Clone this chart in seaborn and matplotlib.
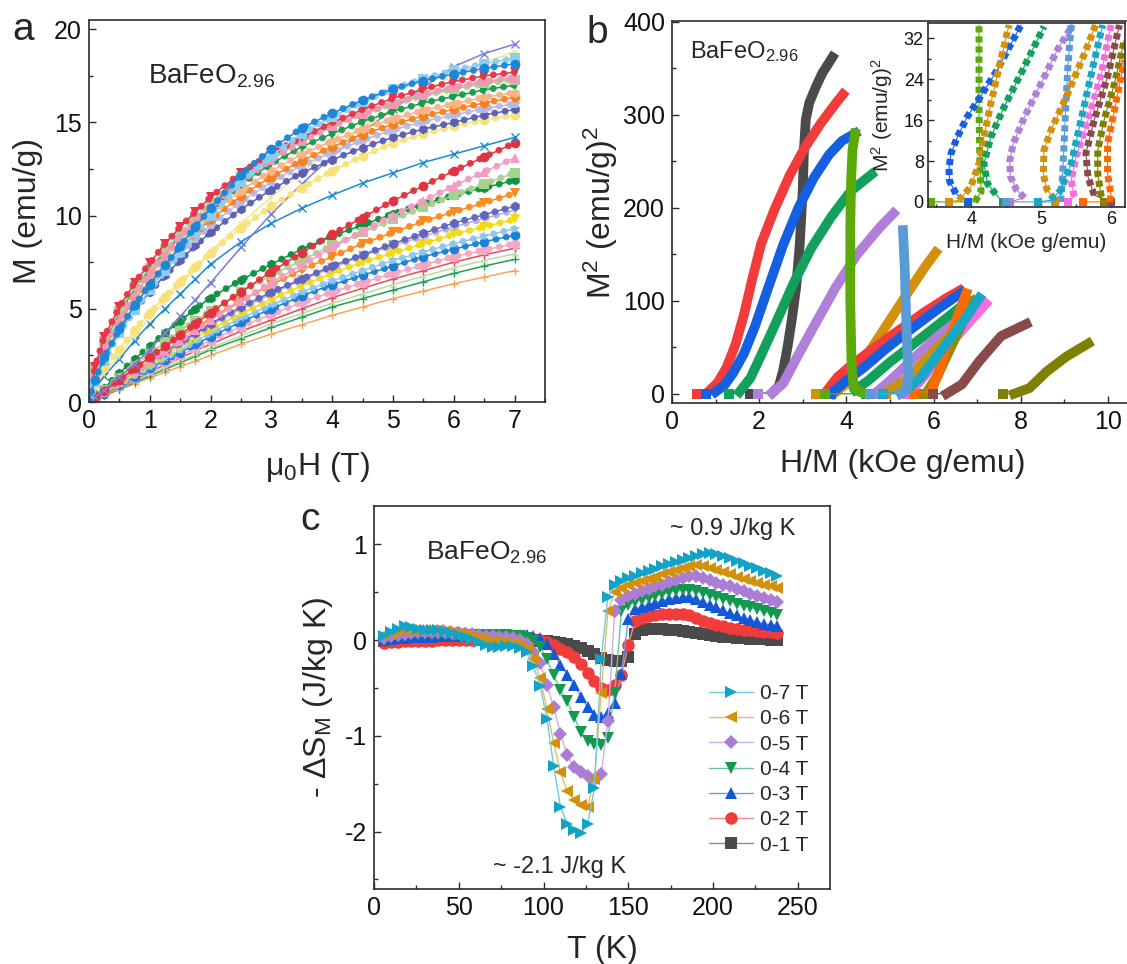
import numpy as np
import pandas as pd
import matplotlib
matplotlib.use("Agg")
import matplotlib.pyplot as plt
from matplotlib.lines import Line2D
from matplotlib.ticker import MultipleLocator
import seaborn as sns

# ---------------- Panel a data: M(H) isotherms ----------------
H_a = [0, 0.1, 0.25, 0.5, 0.75, 1, 1.25, 1.5, 1.75, 2, 2.5, 3, 3.5, 4, 4.5, 5, 5.5, 6, 6.5, 7]

a_red_v = [0, 1.9, 3.5, 5.1, 6.4, 7.45, 8.5, 9.4, 10.2, 11.0, 12.3, 13.35, 14.2, 15.0, 15.7, 16.3, 16.8, 17.2, 17.5, 17.7]
a_lgreen_s = [0, 1.8, 3.3, 4.9, 6.2, 7.2, 8.2, 9.1, 9.9, 10.7, 12.1, 13.2, 14.1, 14.9, 15.5, 16.0, 16.45, 16.8, 17.1, 17.3]
a_green_v = [0, 1.7, 3.2, 4.8, 6.05, 7.1, 8.05, 8.9, 9.7, 10.4, 11.7, 12.8, 13.7, 14.4, 15.05, 15.6, 16.05, 16.4, 16.75, 17.0]
a_peach_h = [0, 1.6, 3.0, 4.5, 5.75, 6.8, 7.7, 8.55, 9.35, 10.1, 11.35, 12.4, 13.3, 14.0, 14.65, 15.2, 15.65, 16.0, 16.35, 16.6]
a_orange_o = [0, 1.5, 2.85, 4.3, 5.5, 6.5, 7.4, 8.25, 9.05, 9.8, 11.05, 12.1, 12.95, 13.7, 14.35, 14.9, 15.35, 15.7, 16.05, 16.35]
a_lav_p = [0, 1.4, 2.65, 4.0, 5.2, 6.2, 7.1, 7.95, 8.75, 9.5, 10.75, 11.8, 12.7, 13.4, 14.05, 14.6, 15.05, 15.4, 15.75, 16.0]
a_slate_h = [0, 1.3, 2.5, 3.8, 4.95, 5.9, 6.8, 7.6, 8.4, 9.1, 10.35, 11.4, 12.3, 13.0, 13.65, 14.2, 14.65, 15.0, 15.4, 15.7]
a_blue_o = [0, 1.2, 2.4, 3.9, 5.2, 6.3, 7.35, 8.35, 9.4, 10.4, 12.2, 13.6, 14.7, 15.5, 16.2, 16.8, 17.25, 17.6, 17.9, 18.15]
a_lblue_s = [0, 1.1, 2.2, 3.7, 4.95, 6.0, 7.05, 8.05, 9.05, 10.0, 11.8, 13.2, 14.4, 15.3, 16.1, 16.8, 17.35, 17.8, 18.15, 18.45]
a_pink_t = [0, 1.6, 3.0, 4.4, 5.75, 6.9, 7.9, 8.85, 9.7, 10.5, 11.85, 13.0, 14.0, 14.8, 15.45, 16.0, 16.5, 16.9, 17.2, 17.4]
a_yellow_o = [0, 0.9, 1.8, 2.8, 3.85, 4.8, 5.65, 6.45, 7.25, 8.0, 9.35, 10.5, 11.5, 12.4, 13.2, 13.9, 14.4, 14.8, 15.15, 15.4]
a_blue_x = [0, 0.7, 1.4, 2.3, 3.3, 4.2, 5.0, 5.8, 6.6, 7.4, 8.6, 9.6, 10.4, 11.1, 11.75, 12.3, 12.85, 13.3, 13.75, 14.2]
a_purple_x = [0, 0.25, 0.65, 1.35, 2.05, 2.8, 3.7, 4.6, 5.5, 6.4, 8.3, 10.1, 11.7, 13.2, 14.5, 15.7, 16.9, 18.0, 18.7, 19.2]
a_yellow_l = [0, 0.8, 1.6, 2.5, 3.55, 4.5, 5.4, 6.3, 7.2, 8.1, 9.6, 11.0, 12.3, 13.6, 14.7, 15.8, 16.7, 17.5, 18.2, 18.8]
b_red_o = [0, 0.25, 0.6, 1.2, 1.8, 2.4, 3.0, 3.6, 4.2, 4.8, 5.9, 7.0, 8.0, 9.0, 9.9, 10.8, 11.6, 12.4, 13.15, 13.9]
b_pink_t = [0, 0.22, 0.55, 1.1, 1.65, 2.2, 2.75, 3.3, 3.85, 4.4, 5.4, 6.4, 7.35, 8.3, 9.15, 10.0, 10.8, 11.6, 12.35, 13.1]
b_lgreen_s = [0, 0.27, 0.65, 1.3, 1.95, 2.6, 3.2, 3.8, 4.35, 4.9, 5.9, 6.8, 7.6, 8.4, 9.1, 9.8, 10.45, 11.1, 11.7, 12.3]
b_green_h = [0, 0.3, 0.75, 1.55, 2.3, 3.0, 3.7, 4.35, 5.0, 5.6, 6.55, 7.4, 8.2, 8.9, 9.5, 10.1, 10.6, 11.1, 11.5, 11.9]
b_orange_v = [0, 0.24, 0.6, 1.2, 1.8, 2.4, 2.95, 3.5, 4.0, 4.5, 5.45, 6.3, 7.1, 7.8, 8.5, 9.1, 9.7, 10.2, 10.7, 11.2]
b_slate_h = [0, 0.22, 0.55, 1.1, 1.65, 2.2, 2.7, 3.2, 3.7, 4.2, 5.1, 5.9, 6.6, 7.3, 7.9, 8.5, 9.05, 9.6, 10.05, 10.5]
b_lav_v = [0, 0.21, 0.53, 1.07, 1.6, 2.1, 2.6, 3.1, 3.6, 4.1, 5.0, 5.8, 6.55, 7.2, 7.85, 8.4, 8.9, 9.4, 9.85, 10.3]
b_yellow_v = [0, 0.2, 0.5, 1.0, 1.5, 2.0, 2.5, 2.95, 3.45, 3.9, 4.75, 5.5, 6.25, 6.9, 7.5, 8.0, 8.5, 9.0, 9.4, 9.8]
b_lblue_star = [0, 0.19, 0.48, 0.95, 1.43, 1.9, 2.35, 2.8, 3.25, 3.7, 4.5, 5.2, 5.9, 6.5, 7.05, 7.6, 8.05, 8.5, 8.9, 9.3]
b_blue_o = [0, 0.18, 0.45, 0.9, 1.35, 1.8, 2.25, 2.65, 3.1, 3.5, 4.3, 5.0, 5.7, 6.3, 6.8, 7.3, 7.8, 8.2, 8.6, 8.95]
b_pink_o = [0, 0.17, 0.43, 0.85, 1.28, 1.7, 2.1, 2.5, 2.9, 3.3, 4.05, 4.7, 5.35, 5.9, 6.4, 6.9, 7.35, 7.8, 8.15, 8.5]
b_red_plus = [0, 0.16, 0.4, 0.8, 1.2, 1.6, 2.0, 2.35, 2.75, 3.1, 3.8, 4.4, 5.0, 5.6, 6.1, 6.6, 7.05, 7.5, 7.9, 8.25]
b_lgreen_tri = [0, 0.15, 0.38, 0.75, 1.13, 1.5, 1.85, 2.2, 2.55, 2.9, 3.55, 4.2, 4.75, 5.3, 5.8, 6.3, 6.75, 7.2, 7.6, 7.95]
b_green_plus = [0, 0.14, 0.35, 0.7, 1.05, 1.4, 1.75, 2.1, 2.45, 2.8, 3.4, 4.0, 4.55, 5.1, 5.55, 6.0, 6.45, 6.9, 7.3, 7.65]
b_orange_plus = [0, 0.13, 0.33, 0.65, 0.98, 1.3, 1.6, 1.9, 2.2, 2.5, 3.1, 3.65, 4.15, 4.65, 5.1, 5.55, 5.95, 6.35, 6.7, 7.05]

# ---------------- Panel b data: Arrott plots (H/M, M^2) ----------------
ar_black_x = [1.80, 2.30, 2.45, 2.55, 2.65, 2.75, 2.85, 2.93, 3.00, 3.03, 3.07, 3.15, 3.30, 3.45, 3.60, 3.68]
ar_black_y = [0, 1, 8, 25, 50, 80, 115, 160, 220, 265, 295, 313, 330, 345, 356, 362]
ar_red_x = [0.58, 0.85, 1.05, 1.25, 1.45, 1.65, 1.85, 2.05, 2.35, 2.7, 3.05, 3.4, 3.75, 3.92]
ar_red_y = [0, 3, 12, 28, 52, 85, 125, 162, 198, 235, 265, 290, 312, 322]
ar_blue_x = [0.77, 1.0, 1.2, 1.4, 1.65, 1.9, 2.2, 2.55, 2.9, 3.25, 3.6, 3.9, 4.2]
ar_blue_y = [0, 2, 9, 22, 43, 72, 113, 160, 200, 232, 257, 272, 280]
ar_green_x = [1.31, 1.55, 1.8, 2.05, 2.4, 2.8, 3.2, 3.65, 4.1, 4.58]
ar_green_y = [0, 2, 17, 42, 78, 120, 157, 190, 218, 236]
ar_purple_x = [1.97, 2.3, 2.55, 2.9, 3.25, 3.75, 4.25, 4.75, 5.08]
ar_purple_y = [0, 1, 11, 42, 72, 114, 150, 178, 194]
ar_ygreen_x = [3.50, 4.45, 4.3, 4.17, 4.12, 4.09, 4.09, 4.11, 4.14, 4.2]
ar_ygreen_y = [0, 0, 2, 8, 30, 100, 180, 230, 262, 280]
ar_steel_x = [4.55, 5.25, 5.38, 5.42, 5.38, 5.34, 5.30]
ar_steel_y = [0, 0, 3, 20, 70, 135, 176]
ar_gold_x = [3.30, 3.72, 4.05, 4.4, 4.9, 5.4, 5.8, 6.05]
ar_gold_y = [0, 0, 13, 36, 72, 108, 136, 152]
ar_red2_x = [3.50, 3.6, 3.8, 4.1, 4.6, 5.2, 5.8, 6.3, 6.6]
ar_red2_y = [0, 6, 18, 30, 48, 68, 88, 103, 111]
ar_blue2_x = [3.65, 3.75, 4.0, 4.4, 4.9, 5.5, 6.1, 6.65]
ar_blue2_y = [0, 4, 14, 28, 48, 70, 91, 109]
ar_green2_x = [4.45, 4.2, 4.5, 5.0, 5.5, 6.1, 6.8]
ar_green2_y = [0, 4, 14, 34, 52, 74, 100]
ar_purple2_x = [4.65, 4.75, 5.0, 5.5, 6.1, 6.6, 7.0]
ar_purple2_y = [0, 4, 14, 36, 62, 80, 93]
ar_pink_x = [5.4, 5.5, 5.9, 6.5, 7.2]
ar_pink_y = [0, 3, 25, 60, 97]
ar_gold2_x = [4.9, 5.0, 5.4, 6.0, 6.5, 6.9]
ar_gold2_y = [0, 4, 16, 45, 70, 98]
ar_orange_x = [5.55, 5.95, 6.1, 6.3, 6.55, 6.75]
ar_orange_y = [0, 3, 20, 50, 82, 108]
ar_cyan_x = [4.85, 5.35, 5.7, 6.2, 6.7, 7.05]
ar_cyan_y = [0, 3, 17, 48, 79, 103]
ar_olive2_x = [5.75, 5.85, 6.1, 6.4, 6.7, 6.95]
ar_olive2_y = [0, 2, 20, 50, 80, 100]
ar_brown_x = [5.99, 6.30, 6.65, 7.05, 7.55, 8.13]
ar_brown_y = [0, 0, 10, 35, 62, 75]
ar_olive_x = [7.59, 7.85, 8.2, 8.6, 9.05, 9.55]
ar_olive_y = [0, 0, 6, 24, 40, 54]

# ---------------- Inset data ----------------
in_blue_x = [3.95, 3.78, 3.69, 3.68, 3.71, 3.8, 3.94, 4.13, 4.37, 4.71]
in_blue_y = [0, 1.6, 4, 6.5, 9.5, 12.7, 16.6, 20.6, 25.8, 34.6]
in_ygreen_x = [3.42, 4.05, 4.14, 4.13, 4.12, 4.11, 4.11, 4.11]
in_ygreen_y = [0, 0, 2, 5, 10, 18, 26, 34.6]
in_gold_x = [3.68, 3.82, 3.99, 4.11, 4.18, 4.28, 4.40, 4.54]
in_gold_y = [0, 0.3, 2.9, 7.5, 12.7, 19.3, 26.5, 34.6]
in_tgreen_x = [4.45, 4.35, 4.23, 4.18, 4.28, 4.47, 4.71, 5.04]
in_tgreen_y = [0, 1.5, 3.6, 7.5, 12.7, 18.6, 25.1, 34.3]
in_purple_x = [4.55, 4.76, 4.64, 4.56, 4.55, 4.6, 4.76, 5.0, 5.23, 5.45]
in_purple_y = [0, 0.8, 2.5, 5, 8, 11.4, 16.6, 23.2, 29.7, 34.6]
in_steel_x = [4.49, 5.28, 5.31, 5.33, 5.35, 5.38, 5.43]
in_steel_y = [0, 0, 6.2, 12, 18, 26, 34.6]
in_gold2_x = [5.2, 5.19, 5.08, 5.03, 5.04, 5.14, 5.38, 5.62, 5.78]
in_gold2_y = [0, 0.5, 2.5, 5.5, 10.1, 14, 21.2, 29, 34.6]
in_cyan_x = [4.95, 5.14, 5.28, 5.43, 5.57, 5.74, 5.88]
in_cyan_y = [0, 0.3, 2.3, 7.5, 16, 26.4, 34.6]
in_pink_x = [5.38, 5.47, 5.43, 5.50, 5.67, 5.86, 6.0]
in_pink_y = [0, 1, 4.2, 8.8, 16, 25.1, 34.6]
in_brown_x = [6.0, 5.76, 5.67, 5.64, 5.76, 5.95, 6.12]
in_brown_y = [0, 1.3, 4.9, 9.5, 16, 24.5, 34.6]
in_olive_x = [5.9, 5.86, 5.81, 5.81, 5.90, 6.05, 6.19]
in_olive_y = [0, 1, 5.5, 10.1, 16, 23.2, 31.7]
in_orange_x = [5.6, 5.98, 6.0, 5.95, 5.95, 6.05, 6.19]
in_orange_y = [0, 0, 1.3, 5.5, 11.4, 18, 27.7]

# ---------------- Panel c data: -dS_M(T) ----------------
T_c = [6, 10, 14, 18, 22, 26, 30, 34, 38, 42, 46, 50, 54, 58, 62, 66, 70, 74, 78, 82,
       86, 90, 94, 98, 102, 106, 110, 114, 118, 122, 126, 130, 134, 138, 142, 146, 150, 154, 158, 162,
       166, 170, 174, 178, 182, 186, 190, 194, 198, 202, 206, 210, 214, 218, 222, 226, 230, 234, 238]
dS_7T = [0.04, 0.08, 0.12, 0.15, 0.14, 0.12, 0.11, 0.10, 0.10, 0.09, 0.07, 0.05, 0.03, 0.01, -0.02, -0.05, -0.07, -0.07, -0.06, -0.06,
         -0.08, -0.13, -0.27, -0.48, -0.82, -1.32, -1.74, -1.92, -1.98, -2.02, -1.92, -1.55, -0.20, 0.45, 0.58, 0.62, 0.65, 0.67, 0.70, 0.72,
         0.74, 0.77, 0.79, 0.82, 0.84, 0.86, 0.88, 0.90, 0.91, 0.90, 0.88, 0.86, 0.83, 0.80, 0.77, 0.75, 0.72, 0.70, 0.67]
dS_6T = [0.05, 0.07, 0.09, 0.10, 0.11, 0.11, 0.11, 0.11, 0.10, 0.09, 0.08, 0.07, 0.05, 0.04, 0.02, 0.00, -0.01, -0.02, -0.02, -0.03,
         -0.05, -0.09, -0.20, -0.40, -0.72, -1.08, -1.38, -1.58, -1.67, -1.72, -1.74, -1.45, -0.55, 0.30, 0.50, 0.54, 0.57, 0.60, 0.62, 0.64,
         0.66, 0.69, 0.71, 0.73, 0.75, 0.77, 0.78, 0.77, 0.75, 0.73, 0.71, 0.69, 0.66, 0.64, 0.62, 0.60, 0.58, 0.56, 0.54]
dS_5T = [0.02, 0.04, 0.05, 0.06, 0.07, 0.08, 0.08, 0.08, 0.08, 0.08, 0.07, 0.07, 0.06, 0.06, 0.05, 0.04, 0.04, 0.03, 0.03, 0.02,
         0.00, -0.04, -0.12, -0.24, -0.47, -0.70, -0.98, -1.20, -1.33, -1.38, -1.42, -1.46, -1.40, -0.85, 0.30, 0.42, 0.46, 0.48, 0.51, 0.53,
         0.56, 0.58, 0.61, 0.63, 0.65, 0.67, 0.67, 0.65, 0.63, 0.60, 0.58, 0.56, 0.53, 0.51, 0.48, 0.46, 0.44, 0.42, 0.40]
dS_4T = [0.00, 0.02, 0.03, 0.04, 0.05, 0.05, 0.05, 0.05, 0.05, 0.05, 0.05, 0.05, 0.05, 0.05, 0.05, 0.05, 0.05, 0.05, 0.05, 0.04,
         0.04, 0.02, -0.01, -0.07, -0.20, -0.37, -0.52, -0.64, -0.80, -0.96, -1.05, -1.09, -1.10, -1.02, -0.55, 0.30, 0.37, 0.40, 0.42, 0.44,
         0.46, 0.48, 0.50, 0.51, 0.52, 0.52, 0.51, 0.49, 0.47, 0.45, 0.43, 0.41, 0.38, 0.36, 0.34, 0.32, 0.30, 0.28, 0.26]
dS_3T = [0.00, 0.01, 0.02, 0.02, 0.03, 0.03, 0.03, 0.03, 0.04, 0.04, 0.04, 0.04, 0.05, 0.05, 0.05, 0.05, 0.05, 0.05, 0.05, 0.05,
         0.05, 0.05, 0.04, 0.02, -0.04, -0.15, -0.26, -0.36, -0.47, -0.59, -0.70, -0.78, -0.80, -0.76, -0.66, -0.35, 0.22, 0.32, 0.35, 0.37,
         0.39, 0.41, 0.43, 0.44, 0.45, 0.45, 0.43, 0.40, 0.37, 0.34, 0.31, 0.28, 0.26, 0.23, 0.21, 0.19, 0.17, 0.16, 0.15]
dS_2T = [-0.03, -0.02, -0.02, -0.01, -0.01, -0.01, -0.01, -0.01, 0.00, 0.00, 0.00, 0.00, 0.00, 0.00, 0.01, 0.01, 0.02, 0.02, 0.02, 0.02,
         0.02, 0.02, 0.01, 0.00, -0.02, -0.05, -0.09, -0.13, -0.18, -0.25, -0.34, -0.43, -0.50, -0.52, -0.47, -0.36, -0.05, 0.20, 0.23, 0.25,
         0.26, 0.27, 0.27, 0.27, 0.27, 0.26, 0.23, 0.20, 0.18, 0.16, 0.15, 0.13, 0.12, 0.11, 0.10, 0.09, 0.08, 0.08, 0.07]
dS_1T = [-0.01, -0.01, -0.01, 0.00, 0.00, 0.00, 0.00, 0.00, 0.00, 0.00, 0.00, 0.00, 0.00, 0.00, 0.00, 0.00, 0.00, 0.00, 0.00, 0.00,
         0.00, 0.00, 0.00, -0.01, -0.01, -0.02, -0.03, -0.04, -0.06, -0.08, -0.11, -0.15, -0.19, -0.21, -0.22, -0.22, -0.18, 0.06, 0.11, 0.12,
         0.12, 0.12, 0.11, 0.10, 0.09, 0.08, 0.07, 0.06, 0.05, 0.04, 0.03, 0.03, 0.02, 0.02, 0.01, 0.01, 0.01, 0.00, 0.00]
field_labels = ["0-1 T", "0-2 T", "0-3 T", "0-4 T", "0-5 T", "0-6 T", "0-7 T"]

# ---------------- styling ----------------
sns.set_theme(style="ticks")
plt.rcParams["font.family"] = ["Liberation Sans", "DejaVu Sans"]
plt.rcParams["mathtext.fontset"] = "custom"
plt.rcParams["mathtext.rm"] = "Liberation Sans"
plt.rcParams["mathtext.it"] = "Liberation Sans:italic"
plt.rcParams["mathtext.bf"] = "Liberation Sans:bold"
plt.rcParams["axes.unicode_minus"] = False

W, Hpx = 1127, 964
fig = plt.figure(figsize=(W / 100, Hpx / 100), dpi=100)


def box(l, t, r, b):
    return [l / W, 1 - b / Hpx, (r - l) / W, (b - t) / Hpx]


SP = "#2b2b2b"


def style_axes(ax, tick_fs, major_len=5, minor_len=3):
    for s in ax.spines.values():
        s.set_color(SP)
        s.set_linewidth(1.2)
    ax.tick_params(which="both", direction="in", color=SP, width=1.0,
                   top=False, right=False, labelsize=tick_fs, labelcolor="#111111")
    ax.tick_params(which="major", length=major_len, pad=5)
    ax.tick_params(which="minor", length=minor_len)
    ax.grid(False)
    ax.set_facecolor("white")


# ---------------- Panel a ----------------
ax_a = fig.add_axes(box(89, 20, 545, 402))
curves_a = [
    (b_orange_plus, "#f8a65a", "+"), (b_green_plus, "#23a052", "+"), (b_lgreen_tri, "#b7dca3", "2"),
    (b_red_plus, "#e84a57", "+"), (b_pink_o, "#f3a7c4", "o"), (b_blue_o, "#1b7fd8", "o"),
    (b_lblue_star, "#8cc7ec", "*"), (b_yellow_v, "#f5d90f", "v"), (b_lav_v, "#b8abe0", "v"),
    (b_slate_h, "#6266ba", "h"), (b_orange_v, "#fb8a1c", "v"), (b_green_h, "#0e913f", "h"),
    (b_lgreen_s, "#a9d18e", "s"), (b_pink_t, "#f39cc3", "^"), (b_red_o, "#e2323f", "o"),
    (a_blue_x, "#1a8ad4", "x"), (a_yellow_l, "#f9e58b", "1"), (a_purple_x, "#7b7fd4", "x"),
    (a_yellow_o, "#f7e27a", "o"), (a_slate_h, "#5b5fb3", "h"), (a_lav_p, "#b9b8e3", "p"),
    (a_orange_o, "#f6821f", "o"), (a_peach_h, "#f9b384", "h"), (a_green_v, "#179c4c", "v"),
    (a_lgreen_s, "#a6d38f", "s"), (a_pink_t, "#f097b4", "^"), (a_red_v, "#e8334a", "v"),
    (a_lblue_s, "#8ecdf2", "s"), (a_blue_o, "#1c86d9", "o"),
]
for vals, col, mk in curves_a:
    filled = mk not in ("+", "x", "1", "2")
    sns.lineplot(x=H_a, y=vals, ax=ax_a, color=col, linewidth=1.1, marker=mk,
                 markersize=7 if filled else 6, markeredgewidth=0 if filled else 1.0,
                 markeredgecolor=col, estimator=None, sort=False)
    if filled:
        ax_a.plot(H_a, vals, color=col, lw=5, ls=(0, (0.01, 1.5)),
                  dash_capstyle="round", alpha=0.95)
ax_a.set_xlim(0, 7.5)
ax_a.set_ylim(0, 20.5)
ax_a.xaxis.set_major_locator(MultipleLocator(1))
ax_a.xaxis.set_minor_locator(MultipleLocator(0.5))
ax_a.yaxis.set_major_locator(MultipleLocator(5))
ax_a.yaxis.set_minor_locator(MultipleLocator(2.5))
style_axes(ax_a, 18)
ax_a.set_xlabel("μ$_0$H (T)", fontsize=23)
ax_a.set_ylabel("M (emu/g)", fontsize=23)
ax_a.xaxis.set_label_coords(0.5, -0.125)
ax_a.yaxis.set_label_coords(-0.10, 0.5)
ax_a.text(0.129, 0.835, "BaFeO$_{2.96}$", transform=ax_a.transAxes, fontsize=20, va="baseline")

# ---------------- Panel b ----------------
ax_b = fig.add_axes(box(672, 21, 1134, 403))
curves_b = [
    (ar_black_x, ar_black_y, "#4a4a4a"), (ar_red_x, ar_red_y, "#f23c3c"), (ar_blue_x, ar_blue_y, "#1560e0"),
    (ar_green_x, ar_green_y, "#12a05a"), (ar_purple_x, ar_purple_y, "#b07fd9"),
    (ar_gold_x, ar_gold_y, "#d4900a"), (ar_red2_x, ar_red2_y, "#f23c3c"), (ar_blue2_x, ar_blue2_y, "#1560e0"),
    (ar_green2_x, ar_green2_y, "#12a05a"), (ar_purple2_x, ar_purple2_y, "#b07fd9"),
    (ar_pink_x, ar_pink_y, "#f76ce0"), (ar_gold2_x, ar_gold2_y, "#c69214"),
    (ar_olive2_x, ar_olive2_y, "#8c8c0a"), (ar_orange_x, ar_orange_y, "#ff6a00"),
    (ar_cyan_x, ar_cyan_y, "#17a8c7"), (ar_brown_x, ar_brown_y, "#8b4a4a"), (ar_olive_x, ar_olive_y, "#7f7f00"),
    (ar_ygreen_x, ar_ygreen_y, "#5aaa0a"), (ar_steel_x, ar_steel_y, "#5b9bd5"),
]
for xs, ys, col in curves_b:
    sns.lineplot(x=xs, y=ys, ax=ax_b, color=col, linewidth=1.0, estimator=None, sort=False)
    ax_b.plot(xs[:1], ys[:1], ls="none", marker="s", ms=6.5, color=col, mew=0)
    ax_b.plot(xs[1:], ys[1:], color=col, lw=7, solid_capstyle="projecting", solid_joinstyle="round")
ax_b.set_xlim(0, 10.6)
ax_b.set_ylim(-10, 401)
ax_b.xaxis.set_major_locator(MultipleLocator(2))
ax_b.xaxis.set_minor_locator(MultipleLocator(1))
ax_b.yaxis.set_major_locator(MultipleLocator(100))
ax_b.yaxis.set_minor_locator(MultipleLocator(50))
style_axes(ax_b, 18)
ax_b.spines["right"].set_visible(False)
ax_b.set_xlabel("H/M (kOe g/emu)", fontsize=23)
ax_b.set_ylabel("M$^2$ (emu/g)$^2$", fontsize=23)
ax_b.xaxis.set_label_coords(0.5, -0.12)
ax_b.yaxis.set_label_coords(-0.112, 0.5)
ax_b.text(0.039, 0.903, "BaFeO$_{2.96}$", transform=ax_b.transAxes, fontsize=17, va="baseline")

# inset
ax_i = fig.add_axes(box(928, 23, 1125, 207))
ax_i.set_zorder(5)
curves_i = [
    (in_ygreen_x, in_ygreen_y, "#5aaa0a"), (in_blue_x, in_blue_y, "#1560e0"), (in_gold_x, in_gold_y, "#d4900a"),
    (in_tgreen_x, in_tgreen_y, "#12a05a"), (in_purple_x, in_purple_y, "#b07fd9"), (in_steel_x, in_steel_y, "#5b9bd5"),
    (in_gold2_x, in_gold2_y, "#d4900a"), (in_pink_x, in_pink_y, "#f76ce0"), (in_cyan_x, in_cyan_y, "#17a8c7"),
    (in_brown_x, in_brown_y, "#8b4a4a"), (in_olive_x, in_olive_y, "#7f7f00"), (in_orange_x, in_orange_y, "#ff6a00"),
]
for xs, ys, col in curves_i:
    sns.lineplot(x=xs, y=ys, ax=ax_i, color=col, linewidth=0.8, estimator=None, sort=False)
    ax_i.plot(xs[:1], ys[:1], ls="none", marker="s", ms=5.5, color=col, mew=0)
    ax_i.plot(xs[1:], ys[1:], color=col, lw=5, ls=(0, (0.9, 0.55)), dash_capstyle="butt")
ax_i.set_xlim(3.38, 6.2)
ax_i.set_ylim(-1, 35)
ax_i.xaxis.set_major_locator(MultipleLocator(1))
ax_i.xaxis.set_minor_locator(MultipleLocator(0.5))
ax_i.yaxis.set_major_locator(MultipleLocator(8))
ax_i.yaxis.set_minor_locator(MultipleLocator(4))
style_axes(ax_i, 13, major_len=4, minor_len=2)
ax_i.tick_params(which="major", pad=3)
ax_i.set_xlabel("H/M (kOe g/emu)", fontsize=15)
ax_i.set_ylabel("M$^2$ (emu/g)$^2$", fontsize=15)
ax_i.xaxis.set_label_coords(0.5, -0.14)
ax_i.yaxis.set_label_coords(-0.17, 0.5)

# ---------------- Panel c ----------------
ax_c = fig.add_axes(box(374, 506, 830, 889))
series_c = [dS_1T, dS_2T, dS_3T, dS_4T, dS_5T, dS_6T, dS_7T]
dark_c = ["#4a4a4a", "#f23c3c", "#1558d6", "#10994f", "#ad7dd6", "#d3900b", "#12a3c9"]
light_c = ["#8a8a8a", "#f78a8a", "#6f9ae8", "#6cc496", "#cdaeea", "#e8bb62", "#6fcbe2"]
marks_c = ["s", "o", "^", "v", "D", "<", ">"]
msize_c = [8.5, 9, 9, 9, 7.5, 9, 9]
handles = []
for vals, dc, lc, mk, ms, lab in zip(series_c, dark_c, light_c, marks_c, msize_c, field_labels):
    df = pd.DataFrame({"T": T_c, "dS": vals})
    sns.lineplot(data=df, x="T", y="dS", ax=ax_c, color=lc, linewidth=1.0, marker=mk,
                 markersize=ms, markerfacecolor=dc, markeredgecolor=dc, markeredgewidth=0,
                 estimator=None, sort=False)
    handles.append(Line2D([], [], color=lc, lw=1.0, marker=mk, markersize=ms,
                          markerfacecolor=dc, markeredgecolor=dc, markeredgewidth=0, label=lab))
ax_c.set_xlim(0, 269)
ax_c.set_ylim(-2.6, 1.4)
ax_c.xaxis.set_major_locator(MultipleLocator(50))
ax_c.xaxis.set_minor_locator(MultipleLocator(25))
ax_c.yaxis.set_major_locator(MultipleLocator(1))
ax_c.yaxis.set_minor_locator(MultipleLocator(0.5))
style_axes(ax_c, 18)
ax_c.set_xlabel("T (K)", fontsize=23)
ax_c.set_ylabel("- ΔS$_\\mathrm{M}$ (J/kg K)", fontsize=23)
ax_c.xaxis.set_label_coords(0.5, -0.12)
ax_c.yaxis.set_label_coords(-0.085, 0.5)
ax_c.text(0.114, 0.859, "BaFeO$_{2.96}$", transform=ax_c.transAxes, fontsize=19, va="baseline")
ax_c.text(0.649, 0.924, "~ 0.9 J/kg K", transform=ax_c.transAxes, fontsize=17, va="baseline")
ax_c.text(0.261, 0.042, "~ -2.1 J/kg K", transform=ax_c.transAxes, fontsize=17, va="baseline")
leg = ax_c.legend(handles=handles[::-1], loc="upper left", bbox_to_anchor=(0.735, 0.535),
                  frameon=False, fontsize=15, handlelength=2.1, handletextpad=0.35,
                  labelspacing=0.3, borderpad=0, borderaxespad=0)

# panel letters
fig.text(12 / W, 1 - 40 / Hpx, "a", fontsize=28, va="baseline")
fig.text(586 / W, 1 - 43 / Hpx, "b", fontsize=28, va="baseline")
fig.text(300 / W, 1 - 530 / Hpx, "c", fontsize=28, va="baseline")

fig.savefig("out.png", dpi=100)
